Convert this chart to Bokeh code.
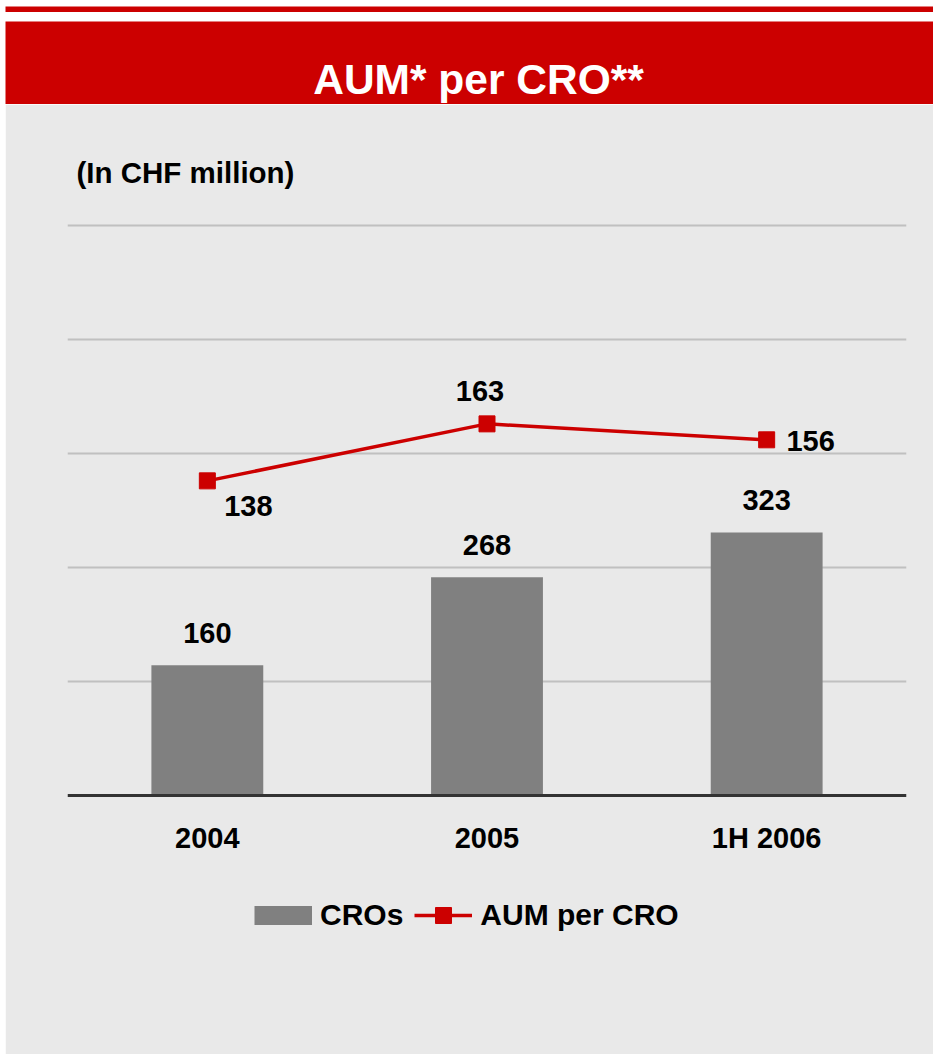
from bokeh.plotting import figure
from bokeh.models import (ColumnDataSource, FactorRange, Range1d, LabelSet, Legend,
                          LegendItem, FixedTicker, Grid, Spacer)
from bokeh.core.properties import value
from bokeh.embed import file_html
from bokeh.resources import INLINE

# ---- data ----
categories = ["2004", "2005", "1H 2006"]
cros = [160, 268, 323]
aum_per_cro = [138, 163, 156]
cros_axis_max = 700
aum_axis_max = 250
y_grid_ticks = [140, 280, 420, 560, 700]
title_text = "AUM* per CRO**"
unit_text = "(In CHF million)"
legend_labels = ["CROs", "AUM per CRO"]

# ---- styles ----
RED = "#cc0000"
BG = "#e9e9e9"
BAR = "#808080"
FONT = value("Liberation Sans")
aum_label_dx = [41, -7, 44]
aum_label_dy = [-35, 23, -11]

W = 928
BL, BR = 62, 27           # frame borders (px)
PLOT_PX = 570             # height of the value area 0..max (px)
TOP_PX = 10               # frame room above the top grid line
EXTRA_PX = 150            # frame room below the baseline (legend)
LEFT_MARGIN = (0, 0, 0, 5)


def deco_fig(height, margin):
    f = figure(width=W, height=height, x_range=Range1d(0, W), y_range=Range1d(0, height),
               output_backend="svg", toolbar_location=None, x_axis_location=None,
               y_axis_location=None, min_border=0, outline_line_color=None,
               title=None, margin=margin)
    f.background_fill_color = RED
    f.border_fill_color = RED
    f.grid.visible = False
    return f


# ---- header ----
stripe = deco_fig(9, (3, 0, 0, 5))
gap = Spacer(width=W, height=9, margin=LEFT_MARGIN)
band = deco_fig(83, LEFT_MARGIN)
band.text(x=[473], y=[25], text=[title_text], text_font=FONT, text_font_style="bold",
          text_font_size="42.5px", text_color="white", text_align="center",
          text_baseline="alphabetic")

# ---- main chart ----
def view_range(vmax):
    per_px = vmax / PLOT_PX
    return Range1d(-EXTRA_PX * per_px, vmax + TOP_PX * per_px)


H = 950
p = figure(width=W, height=H, x_range=FactorRange(*categories),
           y_range=view_range(cros_axis_max),
           output_backend="svg", toolbar_location=None, y_axis_location=None,
           min_border_left=BL, min_border_right=BR, min_border_top=121 - TOP_PX,
           min_border_bottom=H - 121 - PLOT_PX - EXTRA_PX, title=unit_text,
           margin=LEFT_MARGIN)
p.background_fill_color = BG
p.border_fill_color = BG
p.outline_line_color = BG
p.outline_line_width = 2
p.extra_y_ranges = {"aum": view_range(aum_axis_max)}

p.title.text_font = "Liberation Sans"
p.title.text_font_size = "29.5px"
p.title.text_font_style = "bold"
p.title.text_color = "black"
p.title.align = "left"
p.title.offset = 9
p.title.standoff = 53

p.xgrid.visible = False
p.ygrid.visible = False
p.add_layout(Grid(dimension=1, ticker=FixedTicker(ticks=y_grid_ticks),
                  grid_line_color="#c0c0c0", grid_line_width=2))

ax = p.xaxis[0]
ax.fixed_location = 0
ax.axis_line_color = "#333333"
ax.axis_line_width = 3
ax.major_tick_line_color = None
ax.minor_tick_line_color = None
ax.major_tick_out = 0
ax.major_tick_in = 0
ax.major_label_standoff = 26
ax.major_label_text_font = "Liberation Sans"
ax.major_label_text_font_size = "29px"
ax.major_label_text_font_style = "bold"
ax.major_label_text_color = "black"

bar_src = ColumnDataSource(dict(x=categories, top=cros, t=[str(v) for v in cros]))
bars = p.vbar(x="x", top="top", bottom=0, width=0.4, source=bar_src, fill_color=BAR,
              line_color=None)

aum_src = ColumnDataSource(dict(x=categories, y=aum_per_cro,
                                t=[str(v) for v in aum_per_cro],
                                xo=aum_label_dx, yo=aum_label_dy))
line = p.line(x="x", y="y", source=aum_src, y_range_name="aum", line_color=RED,
              line_width=3.5)
marks = p.scatter(x="x", y="y", source=aum_src, y_range_name="aum", marker="square",
                  size=16, fill_color=RED, line_color=RED)

# legend swatch for the bars: a one-point line draws nothing in the plot,
# only its thick stroke in the legend
bar_swatch = p.line(x=categories[:1], y=[0], line_color=BAR, line_width=19,
                    line_cap="butt")

p.add_layout(LabelSet(x="x", y="top", text="t", source=bar_src, y_offset=22,
                      text_align="center", text_baseline="alphabetic",
                      text_font=FONT, text_font_size="29px", text_font_style="bold",
                      text_color="black"))
p.add_layout(LabelSet(x="x", y="y", text="t", source=aum_src, y_range_name="aum",
                      x_offset="xo", y_offset="yo",
                      text_align="center", text_baseline="alphabetic",
                      text_font=FONT, text_font_size="29px", text_font_style="bold",
                      text_color="black"))

leg = Legend(items=[LegendItem(label=legend_labels[0], renderers=[bar_swatch]),
                    LegendItem(label=legend_labels[1], renderers=[line, marks])],
             location=(187, 10), orientation="horizontal", padding=0, margin=0,
             spacing=11, glyph_width=58, glyph_height=40, label_height=40,
             label_standoff=8, background_fill_alpha=0, border_line_color=None,
             label_text_font="Liberation Sans", label_text_font_size="30px",
             label_text_font_style="bold", label_text_color="black")
p.add_layout(leg)

open("out.html", "w").write(file_html([stripe, gap, band, p], INLINE))
